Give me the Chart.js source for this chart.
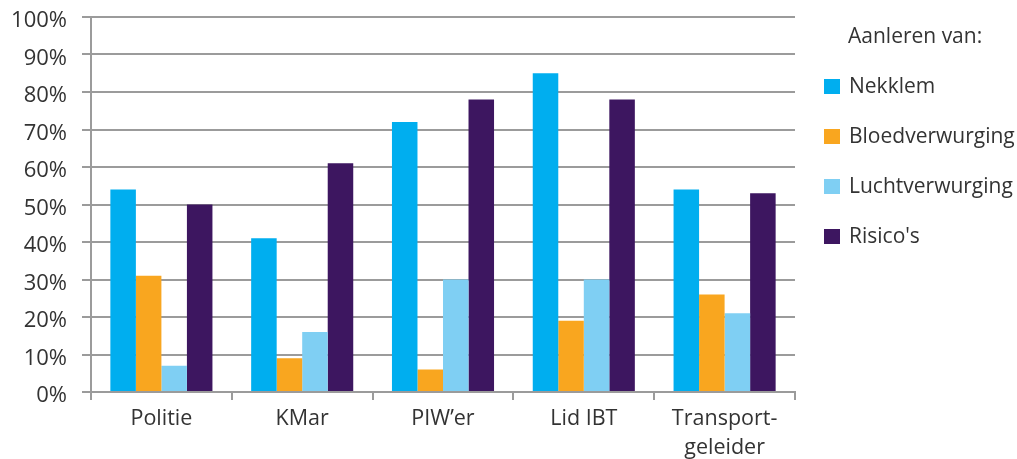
<!DOCTYPE html>
<html>
<head>
<meta charset="utf-8">
<script src="https://cdn.jsdelivr.net/npm/chart.js@4"></script>
<style>
html,body{margin:0;padding:0;background:#fff;}
#wrap{width:1017px;height:459px;position:relative;}
</style>
</head>
<body>
<div id="wrap"><canvas id="c" width="1017" height="459"></canvas></div>
<script>
const categories = ['Politie', 'KMar', 'PIW\u2019er', 'Lid IBT', ['Transport-', 'geleider']];
const seriesNames = ['Nekklem', 'Bloedverwurging', 'Luchtverwurging', "Risico's"];
const nekklem = [54, 41, 72, 85, 54];
const bloedverwurging = [31, 9, 6, 19, 26];
const luchtverwurging = [7, 16, 30, 30, 21];
const risicos = [50, 61, 78, 78, 53];
const colors = ['#00aeef', '#f9a61f', '#7fcff3', '#3d1660'];
const legendTitle = 'Aanleren van:';
const yTicks = [0, 10, 20, 30, 40, 50, 60, 70, 80, 90, 100];

const FONT = '"Open Sans", sans-serif';
const TEXT = '#333333';
const GRID = '#9b9b9b';

const legendPlugin = {
  id: 'sideLegend',
  afterDraw(chart) {
    const ctx = chart.ctx;
    ctx.save();
    ctx.font = '21px ' + FONT;
    ctx.fillStyle = TEXT;
    ctx.textBaseline = 'middle';
    ctx.textAlign = 'left';
    ctx.fillText(legendTitle, 848, 37);
    chart.data.datasets.forEach((ds, i) => {
      const cy = 87 + i * 50;
      ctx.fillStyle = ds.backgroundColor;
      ctx.fillRect(824, cy - 8, 16, 15);
      ctx.fillStyle = TEXT;
      ctx.fillText(ds.label, 849, cy);
    });
    ctx.restore();
  }
};

const seriesData = [nekklem, bloedverwurging, luchtverwurging, risicos];

new Chart(document.getElementById('c'), {
  type: 'bar',
  data: {
    labels: categories,
    datasets: seriesNames.map((n, i) => ({
      label: n,
      data: seriesData[i],
      backgroundColor: colors[i],
      borderWidth: 0,
      categoryPercentage: 0.725,
      barPercentage: 1.0
    }))
  },
  options: {
    responsive: false,
    animation: false,
    devicePixelRatio: 1,
    layout: { padding: { left: 10, right: 222, top: 17, bottom: 0 } },
    plugins: { legend: { display: false }, tooltip: { enabled: false } },
    scales: {
      y: {
        min: 0, max: 100,
        afterFit(scale) { scale.width = 81; scale.paddingTop = 0; scale.paddingBottom = 0; },
        afterBuildTicks(scale) { scale.ticks = yTicks.map(v => ({ value: v })); },
        ticks: {
          callback: v => v + '%',
          color: TEXT,
          font: { family: FONT, size: 22 },
          padding: 15,
          labelOffset: 4
        },
        grid: { color: GRID, lineWidth: 2, tickLength: 9, drawTicks: true },
        border: { color: GRID, width: 2 }
      },
      x: {
        offset: true,
        afterFit(scale) { scale.height = 67; scale.paddingLeft = 0; scale.paddingRight = 0; },
        ticks: {
          color: TEXT,
          font: { family: FONT, size: 21.5, lineHeight: 1.35 },
          padding: 4,
          maxRotation: 0,
          autoSkip: false
        },
        grid: { offset: true, drawOnChartArea: false, drawTicks: true, tickLength: 8, color: GRID, lineWidth: 2 },
        border: { color: GRID, width: 2 }
      }
    }
  },
  plugins: [legendPlugin]
});
</script>
</body>
</html>
